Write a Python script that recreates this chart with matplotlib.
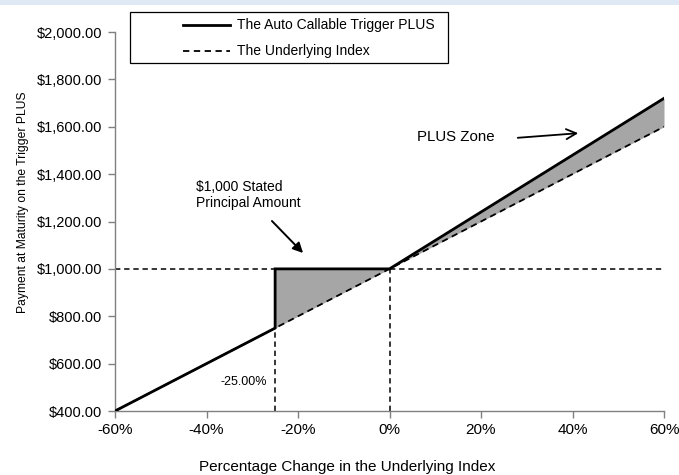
import matplotlib
matplotlib.use("Agg")
import matplotlib.pyplot as plt
from matplotlib.patches import Rectangle, FancyArrowPatch
from matplotlib.lines import Line2D
from matplotlib.ticker import FuncFormatter

plt.rcParams['font.family'] = ['Liberation Sans', 'DejaVu Sans']

# Data
trigger_pct = [-60, -25, -25, 0, 60]
trigger_pay = [400, 750, 1000, 1000, 1720]
index_pct = [-60, 60]
index_pay = [400, 1600]
x_ticks = [-60, -40, -20, 0, 20, 40, 60]
y_ticks = [400, 600, 800, 1000, 1200, 1400, 1600, 1800, 2000]
principal = 1000
trigger_level = -25
fill_down_x = [-25, 0]
fill_down_lo = [750, 1000]
fill_up_x = [0, 60]
fill_up_lo = [1000, 1600]
fill_up_hi = [1000, 1720]

W, H = 679, 475
fig = plt.figure(figsize=(W / 100, H / 100), dpi=100)
fig.patch.set_facecolor('white')
fig.patches.append(Rectangle((0, 1 - 5 / H), 1, 5 / H, transform=fig.transFigure,
                             facecolor='#dfe9f5', edgecolor='none', zorder=0))

ax = fig.add_axes([115 / W, (H - 411) / H, (664 - 115) / W, (411 - 32) / H])
ax.set_xlim(-60, 60)
ax.set_ylim(400, 2000)

grey = '#a6a6a6'
dash = (0, (3.5, 2.5))
ax.fill_between(fill_down_x, fill_down_lo, [principal] * 2, color=grey, lw=0, zorder=1)
ax.fill_between(fill_up_x, fill_up_lo, fill_up_hi, color=grey, lw=0, zorder=1)

# reference dashed lines
ax.plot([-60, 60], [principal, principal], color='black', lw=1.1, ls=dash, zorder=2)
ax.plot([trigger_level, trigger_level], [400, principal], color='black', lw=1.1, ls=dash, zorder=2)
ax.plot([0, 0], [400, principal], color='black', lw=1.1, ls=dash, zorder=2)

ax.plot(index_pct, index_pay, color='black', lw=1.3, ls=dash, zorder=3)
ax.plot(trigger_pct, trigger_pay, color='black', lw=2.0, zorder=4, solid_joinstyle='miter')

for s in ['top', 'right']:
    ax.spines[s].set_visible(False)
for s in ['left', 'bottom']:
    ax.spines[s].set_color('#808080')
    ax.spines[s].set_linewidth(1.0)

ax.set_xticks(x_ticks)
ax.set_xticklabels([f"{v}%" for v in x_ticks])
ax.set_yticks(y_ticks)
ax.yaxis.set_major_formatter(FuncFormatter(lambda v, p: f"${v:,.2f}"))
ax.tick_params(axis='x', colors='#808080', labelcolor='black', labelsize=11, length=5, width=1, pad=4)
ax.tick_params(axis='y', colors='#808080', labelcolor='black', labelsize=10.5, length=5, width=1, pad=4)

fig.text(347 / W, 1 - 467 / H, 'Percentage Change in the Underlying Index', fontsize=11,
         ha='center', va='center')
fig.text(23 / W, 1 - 202 / H, 'Payment at Maturity on the Trigger PLUS', fontsize=8.7,
         ha='center', va='center', rotation=90)

# annotations
ax.text(trigger_level - 1.8, 400 + (411 - 382) / 0.2369, '-25.00%', fontsize=9, ha='right', va='center')

fig.text(196 / W, 1 - 195 / H, '$1,000 Stated\nPrincipal Amount', fontsize=10,
         ha='left', va='center', linespacing=1.15)
fig.add_artist(FancyArrowPatch((270 / W, 1 - 219 / H), (305 / W, 1 - 255 / H),
               transform=fig.transFigure, arrowstyle='-|>', mutation_scale=15, color='black', lw=1.4))

fig.text(417 / W, 1 - 137 / H, 'PLUS Zone', fontsize=10.8, ha='left', va='center')
fig.add_artist(FancyArrowPatch((515 / W, 1 - 138 / H), (581 / W, 1 - 133 / H),
               transform=fig.transFigure, arrowstyle='->', mutation_scale=18, color='black', lw=1.3))

# legend box
fig.patches.append(Rectangle((130 / W, 1 - 63 / H), (448 - 130) / W, (63 - 12) / H,
                             transform=fig.transFigure, facecolor='white', edgecolor='black',
                             lw=0.9, zorder=5))
for yy, ls, lw, lab in [(25, '-', 2.0, 'The Auto Callable Trigger PLUS'),
                        (51, dash, 1.3, 'The Underlying Index')]:
    fig.add_artist(Line2D([183 / W, 230 / W], [1 - yy / H, 1 - yy / H], transform=fig.transFigure,
                          color='black', lw=lw, ls=ls, zorder=6))
    fig.text(237 / W, 1 - yy / H, lab, fontsize=10, ha='left', va='center', zorder=6)

fig.savefig('out.png', dpi=100)
